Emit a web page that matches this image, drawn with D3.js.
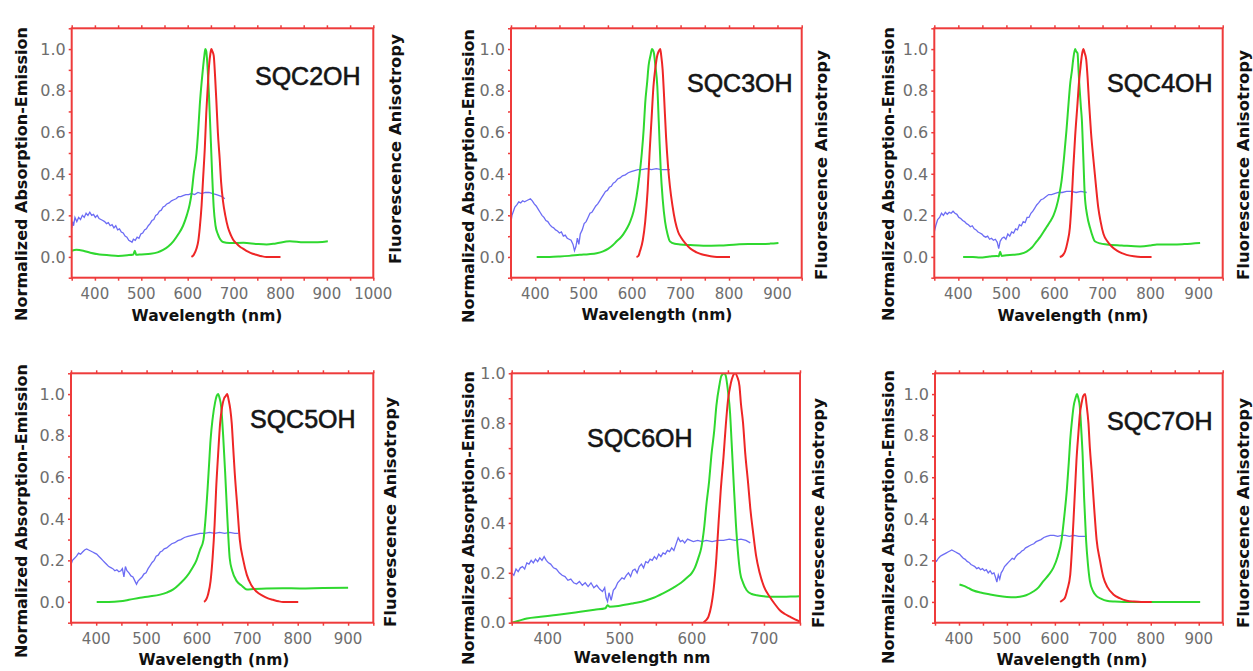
<!DOCTYPE html>
<html>
<head>
<meta charset="utf-8">
<script src="https://cdn.jsdelivr.net/npm/d3@7"></script>
<style>
  body { margin: 0; background: #fff; }
  svg { display: block; }
</style>
</head>
<body>
<div id="chart"></div>
<script>
// --- Data (wavelength nm, normalized value) ---
const titles = ["SQC2OH", "SQC3OH", "SQC4OH", "SQC5OH", "SQC6OH", "SQC7OH"];

const xTicksWide = [400, 500, 600, 700, 800, 900, 1000];
const xTicksStd = [400, 500, 600, 700, 800, 900];
const xTicksShort = [400, 500, 600, 700];
const yTicks = [0, 0.2, 0.4, 0.6, 0.8, 1.0];

// fluorescence anisotropy (blue, noisy)
const aniso2 = [[350,0.14],[352,0.17],[354,0.15],[357,0.19],[361,0.17],[365,0.19],[369,0.18],[373,0.20],[377,0.19],[381,0.21],[385,0.20],[389,0.215],[393,0.20],[397,0.205],[401,0.19],[405,0.20],[409,0.185],[413,0.18],[417,0.175],[421,0.17],[425,0.16],[429,0.165],[433,0.15],[437,0.155],[441,0.14],[445,0.15],[449,0.13],[453,0.135],[457,0.12],[461,0.115],[465,0.10],[469,0.095],[473,0.08],[477,0.075],[480,0.07],[483,0.085],[487,0.08],[491,0.095],[495,0.09],[499,0.11],[503,0.115],[507,0.13],[511,0.135],[515,0.15],[519,0.16],[523,0.175],[527,0.18],[531,0.20],[535,0.205],[539,0.22],[543,0.225],[547,0.24],[551,0.245],[555,0.255],[560,0.26],[565,0.27],[570,0.275],[575,0.28],[580,0.29],[585,0.29],[590,0.295],[596,0.30],[602,0.30],[608,0.305],[615,0.30],[622,0.31],[630,0.305],[638,0.31],[646,0.31],[654,0.305],[662,0.30],[668,0.295],[674,0.29],[680,0.28]];
const aniso3 = [[350,0.17],[352,0.20],[355,0.22],[358,0.24],[362,0.25],[366,0.265],[370,0.26],[374,0.27],[378,0.265],[382,0.27],[386,0.275],[390,0.28],[394,0.27],[398,0.255],[402,0.245],[406,0.23],[410,0.215],[414,0.20],[418,0.19],[422,0.175],[426,0.17],[430,0.155],[434,0.145],[438,0.14],[442,0.13],[446,0.125],[450,0.115],[454,0.12],[458,0.10],[462,0.105],[466,0.09],[470,0.085],[474,0.08],[478,0.06],[481,0.03],[484,0.05],[487,0.09],[490,0.06],[493,0.11],[497,0.13],[501,0.16],[505,0.17],[509,0.19],[513,0.21],[517,0.215],[521,0.23],[525,0.245],[529,0.255],[533,0.27],[537,0.285],[541,0.30],[545,0.315],[549,0.32],[553,0.335],[557,0.34],[561,0.355],[565,0.36],[570,0.375],[575,0.38],[580,0.39],[586,0.395],[592,0.405],[598,0.41],[605,0.415],[612,0.42],[620,0.42],[630,0.425],[640,0.42],[650,0.425],[660,0.42],[670,0.42],[678,0.42]];
const aniso4 = [[350,0.12],[353,0.15],[357,0.18],[361,0.19],[365,0.21],[369,0.20],[373,0.215],[377,0.205],[381,0.215],[385,0.21],[389,0.22],[393,0.21],[397,0.205],[401,0.19],[405,0.185],[409,0.175],[413,0.17],[417,0.16],[421,0.155],[425,0.145],[429,0.15],[433,0.135],[437,0.13],[441,0.12],[445,0.115],[449,0.11],[453,0.10],[457,0.095],[461,0.10],[465,0.085],[469,0.09],[473,0.08],[477,0.085],[481,0.07],[484,0.04],[487,0.075],[491,0.09],[495,0.095],[499,0.085],[503,0.11],[507,0.10],[511,0.12],[515,0.115],[519,0.135],[523,0.13],[527,0.155],[531,0.15],[535,0.17],[539,0.165],[543,0.19],[547,0.19],[551,0.21],[555,0.22],[559,0.235],[563,0.25],[567,0.26],[572,0.275],[577,0.28],[582,0.29],[588,0.30],[594,0.30],[600,0.305],[608,0.31],[616,0.31],[625,0.315],[635,0.315],[645,0.31],[655,0.315],[667,0.31]];
const aniso5 = [[350,0.18],[353,0.20],[357,0.21],[361,0.22],[365,0.235],[369,0.23],[373,0.24],[377,0.25],[381,0.255],[385,0.25],[389,0.245],[393,0.24],[397,0.235],[401,0.23],[405,0.22],[409,0.21],[413,0.20],[417,0.19],[421,0.18],[425,0.17],[429,0.165],[433,0.16],[437,0.15],[441,0.155],[445,0.145],[449,0.15],[452,0.16],[455,0.12],[458,0.17],[461,0.15],[465,0.14],[469,0.125],[473,0.12],[477,0.10],[480,0.085],[483,0.10],[487,0.11],[491,0.12],[495,0.135],[499,0.14],[503,0.16],[507,0.175],[511,0.19],[515,0.20],[519,0.22],[523,0.225],[527,0.24],[531,0.245],[535,0.255],[540,0.26],[545,0.27],[550,0.28],[556,0.285],[562,0.295],[568,0.30],[575,0.31],[582,0.315],[590,0.32],[598,0.325],[606,0.33],[615,0.33],[625,0.335],[635,0.33],[645,0.335],[655,0.33],[665,0.335],[675,0.33],[682,0.33]];
const aniso6 = [[350,0.20],[353,0.19],[356,0.215],[359,0.205],[362,0.22],[365,0.225],[368,0.215],[371,0.24],[374,0.235],[377,0.25],[380,0.24],[383,0.255],[386,0.245],[389,0.26],[392,0.25],[395,0.265],[398,0.25],[401,0.24],[404,0.235],[408,0.22],[412,0.215],[416,0.20],[420,0.19],[424,0.185],[428,0.17],[432,0.175],[436,0.16],[440,0.155],[444,0.165],[448,0.15],[452,0.16],[456,0.145],[460,0.16],[464,0.14],[468,0.15],[472,0.135],[476,0.125],[479,0.14],[481,0.10],[483,0.085],[485,0.12],[488,0.09],[491,0.13],[494,0.14],[497,0.16],[500,0.17],[503,0.18],[506,0.175],[509,0.19],[512,0.20],[515,0.185],[518,0.21],[521,0.215],[524,0.20],[527,0.225],[530,0.235],[533,0.22],[536,0.245],[539,0.24],[542,0.255],[545,0.25],[548,0.265],[551,0.255],[554,0.275],[557,0.265],[560,0.28],[563,0.275],[566,0.29],[569,0.285],[572,0.30],[575,0.29],[578,0.315],[581,0.34],[584,0.325],[587,0.33],[590,0.32],[594,0.335],[598,0.33],[602,0.325],[608,0.33],[614,0.325],[620,0.33],[628,0.325],[636,0.33],[644,0.33],[652,0.335],[660,0.33],[668,0.335],[675,0.33],[681,0.32]];
const aniso7 = [[350,0.20],[353,0.195],[357,0.21],[361,0.22],[365,0.225],[369,0.23],[373,0.235],[377,0.24],[381,0.245],[385,0.25],[389,0.245],[393,0.24],[397,0.235],[401,0.23],[405,0.22],[409,0.21],[413,0.205],[417,0.195],[421,0.19],[425,0.18],[429,0.175],[433,0.17],[437,0.16],[441,0.165],[445,0.155],[449,0.16],[453,0.15],[457,0.155],[461,0.14],[465,0.15],[469,0.135],[473,0.14],[476,0.12],[479,0.095],[482,0.13],[485,0.11],[488,0.14],[491,0.15],[495,0.17],[499,0.18],[503,0.19],[507,0.20],[511,0.21],[515,0.205],[519,0.22],[523,0.23],[527,0.235],[531,0.245],[535,0.25],[539,0.26],[543,0.265],[547,0.27],[551,0.275],[556,0.28],[561,0.29],[566,0.295],[571,0.30],[577,0.31],[583,0.315],[590,0.32],[598,0.32],[606,0.315],[614,0.32],[622,0.32],[630,0.315],[640,0.32],[650,0.315],[660,0.315],[666,0.315]];

// normalized absorption (green)
const absorb2 = [[350,0.03],[360,0.035],[375,0.03],[390,0.02],[410,0.012],[430,0.008],[450,0.005],[470,0.008],[483,0.012],[486,0.03],[489,0.01],[500,0.012],[520,0.015],[535,0.022],[547,0.034],[558,0.05],[569,0.075],[580,0.11],[590,0.15],[598,0.2],[604,0.25],[608,0.3],[613,0.4],[619,0.5],[623,0.62],[626,0.73],[630,0.84],[633,0.91],[636,0.97],[638,1.0],[640,0.99],[642,0.94],[646,0.77],[650,0.55],[653,0.38],[656,0.24],[660,0.15],[665,0.11],[670,0.085],[676,0.072],[690,0.067],[720,0.068],[750,0.062],[770,0.06],[790,0.065],[820,0.075],[850,0.07],[870,0.07],[890,0.072],[902,0.075]];
const absorb3 = [[403,0.0],[430,0.0],[451,0.002],[470,0.005],[492,0.01],[510,0.013],[527,0.018],[540,0.027],[551,0.04],[560,0.056],[568,0.075],[575,0.09],[582,0.11],[590,0.14],[596,0.17],[603,0.22],[609,0.29],[615,0.39],[620,0.5],[624,0.62],[627,0.74],[631,0.84],[634,0.92],[638,0.97],[641,1.0],[643,0.995],[645,0.98],[648,0.92],[652,0.82],[655,0.65],[659,0.42],[663,0.28],[668,0.17],[673,0.11],[678,0.075],[688,0.063],[699,0.06],[720,0.057],[747,0.054],[780,0.055],[816,0.06],[840,0.062],[864,0.062],[885,0.064],[902,0.067]];
const absorb4 = [[410,0.0],[430,0.0],[445,-0.003],[465,0.002],[480,0.005],[484,0.003],[487,0.025],[490,0.005],[500,0.008],[514,0.01],[530,0.015],[542,0.026],[553,0.045],[563,0.075],[570,0.095],[577,0.12],[584,0.145],[591,0.17],[598,0.2],[604,0.24],[610,0.3],[615,0.37],[620,0.48],[625,0.61],[630,0.76],[633,0.84],[636,0.89],[639,0.95],[643,1.0],[645,0.99],[648,0.98],[650,0.9],[652,0.82],[655,0.72],[657,0.66],[660,0.48],[663,0.3],[668,0.2],[674,0.14],[680,0.095],[684,0.075],[695,0.065],[709,0.06],[740,0.055],[778,0.05],[800,0.055],[813,0.06],[830,0.06],[847,0.06],[870,0.062],[903,0.067]];
const absorb5 = [[401,0.0],[425,0.0],[447,0.003],[465,0.01],[487,0.02],[505,0.026],[527,0.035],[540,0.045],[553,0.06],[565,0.085],[579,0.12],[590,0.16],[599,0.2],[606,0.25],[613,0.3],[617,0.4],[621,0.54],[624,0.66],[627,0.78],[631,0.88],[636,0.96],[639,0.99],[642,1.0],[645,0.98],[648,0.94],[652,0.8],[656,0.62],[660,0.42],[665,0.21],[670,0.15],[679,0.1],[688,0.08],[699,0.06],[712,0.062],[738,0.065],[770,0.066],[804,0.065],[850,0.067],[900,0.068]];
const absorb6 = [[350,0.0],[360,0.008],[371,0.017],[390,0.024],[408,0.03],[425,0.036],[445,0.044],[465,0.052],[480,0.058],[483,0.07],[486,0.064],[500,0.068],[519,0.078],[535,0.088],[547,0.1],[560,0.118],[574,0.14],[585,0.16],[593,0.18],[600,0.2],[604,0.22],[609,0.26],[613,0.3],[617,0.38],[620,0.47],[624,0.57],[627,0.67],[631,0.77],[634,0.87],[638,0.95],[641,0.99],[645,1.0],[647,0.99],[650,0.93],[653,0.84],[655,0.73],[658,0.56],[661,0.4],[664,0.28],[667,0.2],[671,0.16],[676,0.13],[683,0.115],[690,0.11],[700,0.106],[708,0.104],[720,0.104],[731,0.104],[740,0.105],[750,0.106]];
const absorb7 = [[401,0.084],[410,0.077],[420,0.066],[430,0.055],[445,0.045],[465,0.036],[480,0.03],[500,0.024],[515,0.022],[527,0.025],[540,0.032],[555,0.05],[566,0.07],[576,0.1],[587,0.13],[597,0.165],[606,0.22],[614,0.3],[620,0.42],[625,0.54],[629,0.67],[632,0.78],[636,0.88],[639,0.94],[643,0.98],[646,1.0],[649,0.98],[652,0.94],[655,0.83],[658,0.7],[661,0.5],[665,0.3],[669,0.18],[673,0.1],[680,0.05],[687,0.028],[697,0.015],[708,0.006],[725,0.002],[743,0.0],[800,0.0],[850,0.0],[903,0.0]];

// normalized emission (red)
const emit2 = [[608,0.0],[613,0.01],[619,0.04],[623,0.08],[626,0.14],[630,0.25],[633,0.37],[637,0.53],[640,0.69],[643,0.81],[646,0.92],[649,0.98],[651,1.0],[653,0.99],[656,0.97],[659,0.87],[662,0.74],[665,0.6],[669,0.47],[672,0.36],[676,0.27],[681,0.2],[687,0.14],[693,0.105],[698,0.083],[705,0.065],[712,0.05],[719,0.04],[730,0.025],[740,0.015],[748,0.01],[760,0.003],[770,0.0],[800,0.0]];
const emit3 = [[609,0.0],[613,0.005],[616,0.026],[622,0.08],[627,0.17],[632,0.32],[636,0.5],[640,0.66],[644,0.82],[648,0.91],[652,0.97],[655,0.99],[658,1.0],[660,0.97],[663,0.9],[666,0.77],[670,0.58],[674,0.44],[678,0.34],[683,0.25],[689,0.17],[695,0.12],[702,0.09],[710,0.065],[720,0.04],[733,0.022],[747,0.01],[760,0.004],[775,0.0],[802,0.0]];
const emit4 = [[611,0.0],[616,0.005],[622,0.026],[627,0.07],[632,0.14],[636,0.28],[639,0.42],[643,0.58],[648,0.74],[651,0.84],[654,0.91],[657,0.97],[660,1.0],[663,0.98],[666,0.95],[669,0.86],[672,0.74],[676,0.6],[681,0.47],[686,0.35],[691,0.24],[696,0.17],[702,0.11],[710,0.075],[719,0.05],[730,0.03],[740,0.018],[750,0.01],[765,0.003],[780,0.0],[802,0.0]];
const emit5 = [[614,0.0],[618,0.01],[622,0.036],[627,0.1],[631,0.21],[635,0.37],[638,0.54],[642,0.71],[646,0.86],[650,0.94],[654,0.98],[657,0.99],[660,1.0],[663,0.97],[666,0.93],[669,0.86],[672,0.74],[675,0.62],[680,0.46],[685,0.3],[692,0.2],[699,0.13],[708,0.08],[718,0.05],[730,0.03],[741,0.017],[751,0.01],[762,0.003],[771,0.0],[801,0.0]];
const emit6 = [[616,0.0],[619,0.008],[623,0.024],[627,0.07],[630,0.13],[634,0.26],[637,0.4],[640,0.53],[644,0.67],[647,0.79],[650,0.89],[654,0.96],[657,0.99],[660,1.0],[663,0.985],[666,0.95],[668,0.88],[671,0.8],[674,0.68],[678,0.56],[681,0.46],[685,0.36],[689,0.27],[694,0.2],[700,0.145],[708,0.104],[715,0.075],[722,0.05],[729,0.035],[736,0.024],[743,0.013],[750,0.005]];
const emit7 = [[611,0.0],[616,0.008],[621,0.02],[626,0.06],[632,0.13],[636,0.27],[639,0.4],[642,0.54],[645,0.68],[649,0.81],[652,0.9],[656,0.96],[659,0.99],[663,1.0],[666,0.95],[670,0.86],[673,0.74],[677,0.62],[682,0.45],[687,0.3],[694,0.2],[701,0.12],[710,0.07],[722,0.036],[735,0.018],[750,0.006],[765,0.002],[780,0.0],[802,0.0]];

// --- Layout of the six panels (frame box, label anchors) ---
const panels = [
  { title: titles[0], aniso: aniso2, absorb: absorb2, emit: emit2, xDom: [350, 1000], yDom: [-0.1, 1.1], ticks: xTicksWide,
    box: [71.7, 28.3, 373.3, 277.7], titlePos: [255, 85], xLab: [207, 321], yLab: [27, 174], rLab: [401, 149], xText: "Wavelength (nm)" },
  { title: titles[1], aniso: aniso3, absorb: absorb3, emit: emit3, xDom: [350, 950], yDom: [-0.1, 1.1], ticks: xTicksStd,
    box: [511, 28.3, 801.7, 277.7], titlePos: [687, 92], xLab: [657, 320], yLab: [474, 176], rLab: [827, 165], xText: "Wavelength (nm)" },
  { title: titles[2], aniso: aniso4, absorb: absorb4, emit: emit4, xDom: [350, 950], yDom: [-0.1, 1.1], ticks: xTicksStd,
    box: [934.3, 28.3, 1222.7, 277.7], titlePos: [1107, 92], xLab: [1073, 321], yLab: [894, 174], rLab: [1249, 165], xText: "Wavelength (nm)" },
  { title: titles[3], aniso: aniso5, absorb: absorb5, emit: emit5, xDom: [350, 950], yDom: [-0.1, 1.1], ticks: xTicksStd,
    box: [71, 373.3, 373.3, 622.7], titlePos: [250, 428], xLab: [214, 665], yLab: [27, 511], rLab: [396, 512], xText: "Wavelength (nm)" },
  { title: titles[4], aniso: aniso6, absorb: absorb6, emit: emit6, xDom: [350, 750], yDom: [0, 1], ticks: xTicksShort,
    box: [511.7, 373.3, 800, 622.7], titlePos: [587, 447], xLab: [642, 663], yLab: [474, 518], rLab: [824, 513], xText: "Wavelength nm" },
  { title: titles[5], aniso: aniso7, absorb: absorb7, emit: emit7, xDom: [350, 950], yDom: [-0.1, 1.1], ticks: xTicksStd,
    box: [935, 373.3, 1222.7, 622.7], titlePos: [1107, 430], xLab: [1072, 665], yLab: [894, 517], rLab: [1249, 513], xText: "Wavelength (nm)" }
];

const frameColor = "#ee3b3b";
const tickFont = "'DejaVu Sans', sans-serif";

// --- Create SVG ---
const svg = d3.select("#chart")
  .append("svg")
  .attr("width", 1253)
  .attr("height", 671)
  .style("background", "#fff");

panels.forEach((p, i) => {
  const [x0, y0, x1, y1] = p.box;
  const x = d3.scaleLinear().domain(p.xDom).range([x0, x1]);
  const y = d3.scaleLinear().domain(p.yDom).range([y1, y0]);
  const g = svg.append("g");

  // clip so lines stay in the frame
  svg.append("clipPath").attr("id", "clip" + i)
    .append("rect").attr("x", x0).attr("y", y0).attr("width", x1 - x0).attr("height", y1 - y0);

  // --- Curves ---
  const line = d3.line().x(d => x(d[0])).y(d => y(d[1]));
  const smooth = d3.line().x(d => x(d[0])).y(d => y(d[1])).curve(d3.curveMonotoneX);
  const curves = g.append("g").attr("clip-path", `url(#clip${i})`);

  curves.append("path").datum(p.aniso)
    .attr("d", line)
    .attr("fill", "none").attr("stroke", "#5252f2").attr("stroke-opacity", 0.85)
    .attr("stroke-width", 1.3);

  curves.append("path").datum(p.absorb)
    .attr("d", smooth)
    .attr("fill", "none").attr("stroke", "#2fd82f").attr("stroke-width", 2);

  curves.append("path").datum(p.emit)
    .attr("d", smooth)
    .attr("fill", "none").attr("stroke", "#ee2626").attr("stroke-width", 2);

  // --- Frame and ticks ---
  const minor = d3.range(p.xDom[0], p.xDom[1] + 1, 50);
  const yMinor = d3.range(Math.round(p.yDom[0] * 10), Math.round(p.yDom[1] * 10) + 1).map(v => v / 10);

  const bottom = g.append("g").attr("transform", `translate(0,${y1})`)
    .call(d3.axisBottom(x).tickValues(minor).tickSize(3).tickFormat(""));
  const top = g.append("g").attr("transform", `translate(0,${y0})`)
    .call(d3.axisTop(x).tickValues(minor).tickSize(3).tickFormat(""));
  const left = g.append("g").attr("transform", `translate(${x0},0)`)
    .call(d3.axisLeft(y).tickValues(yMinor).tickSize(3).tickFormat(""));
  [bottom, top, left].forEach(a => {
    a.select(".domain").remove();
    a.selectAll(".tick line").attr("stroke", frameColor).attr("stroke-width", 1.5);
  });

  g.append("rect")
    .attr("x", x0).attr("y", y0)
    .attr("width", x1 - x0).attr("height", y1 - y0)
    .attr("fill", "none").attr("stroke", frameColor).attr("stroke-width", 2);

  // --- Tick labels ---
  g.selectAll(".xlab").data(p.ticks).enter().append("text")
    .attr("x", d => x(d)).attr("y", y1 + 21)
    .attr("text-anchor", "middle")
    .attr("font-family", tickFont).attr("font-size", "15px").attr("fill", "#6e6e6e")
    .text(d => d);

  g.selectAll(".ylab").data(yTicks).enter().append("text")
    .attr("x", x0 - 6).attr("y", d => y(d)).attr("dy", "0.36em")
    .attr("text-anchor", "end")
    .attr("font-family", tickFont).attr("font-size", "16px").attr("fill", "#6e6e6e")
    .text(d => d.toFixed(1));

  // --- Axis titles ---
  g.append("text")
    .attr("x", p.xLab[0]).attr("y", p.xLab[1])
    .attr("text-anchor", "middle")
    .attr("font-family", tickFont).attr("font-weight", "bold").attr("font-size", "15.5px").attr("fill", "#111")
    .text(p.xText);

  g.append("text")
    .attr("transform", `translate(${p.yLab[0]},${p.yLab[1]}) rotate(-90)`)
    .attr("text-anchor", "middle")
    .attr("font-family", tickFont).attr("font-weight", "bold").attr("font-size", "16px").attr("fill", "#111")
    .text("Normalized Absorption-Emission");

  g.append("text")
    .attr("transform", `translate(${p.rLab[0]},${p.rLab[1]}) rotate(-90)`)
    .attr("text-anchor", "middle")
    .attr("font-family", tickFont).attr("font-weight", "bold").attr("font-size", "16.5px").attr("fill", "#111")
    .text("Fluorescence Anisotropy");

  // --- Panel title ---
  g.append("text")
    .attr("x", p.titlePos[0]).attr("y", p.titlePos[1])
    .attr("font-family", "'Liberation Sans', Arial, sans-serif").attr("font-size", "25px")
    .attr("fill", "#151515").attr("stroke", "#151515").attr("stroke-width", 0.6)
    .text(p.title);
});
</script>
</body>
</html>
